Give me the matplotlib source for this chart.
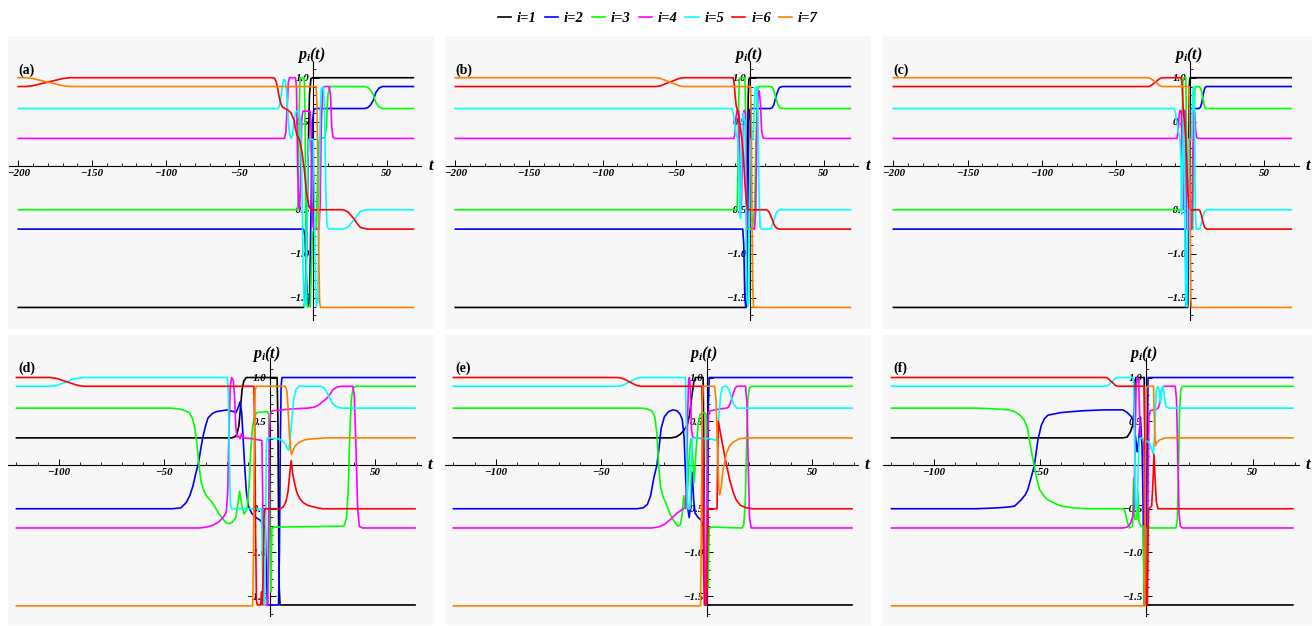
import numpy as np
import matplotlib.pyplot as plt
from matplotlib.lines import Line2D
from matplotlib.ticker import FuncFormatter

plt.rcParams['font.family'] = ['Liberation Serif', 'DejaVu Serif']
plt.rcParams['font.weight'] = 'bold'
plt.rcParams['font.style'] = 'italic'
plt.rcParams['mathtext.fontset'] = 'custom'
plt.rcParams['mathtext.it'] = 'Liberation Serif:bold:italic'
plt.rcParams['mathtext.rm'] = 'Liberation Serif:bold'

LABELS = ["i=1", "i=2", "i=3", "i=4", "i=5", "i=6", "i=7"]
COLORS = ["#000000", "#0000ff", "#00ff00", "#ff00ff", "#00ffff", "#ff0000", "#ff8000"]
TAGS = ["(a)", "(b)", "(c)", "(d)", "(e)", "(f)"]

# ---- panel (a): (t, p) points ----
A1 = [(-200, -1.61), (-6.5, -1.61), (-5.5, -1.55), (-4.5, -1.0), (-3.5, 0.0), (-2.5, 0.8), (-1.5, 0.99), (0, 1.0), (68, 1.0)]
A2 = [(-200, -0.72), (-6.5, -0.72), (-5.5, -0.8), (-4.5, -1.3), (-3.5, -1.6), (-2.5, -1.55), (-1.5, -0.6), (-0.5, 0.5),
      (0.5, 0.64), (2, 0.65), (35, 0.65), (37, 0.66), (39, 0.69), (41, 0.75), (42.5, 0.83), (44.5, 0.88), (47, 0.9), (68, 0.9)]
A3 = [(-200, -0.5), (-10.5, -0.5), (-10, -0.2), (-9.5, 0.6), (-9, 0.97), (-8.5, 1.0), (-6, 1.0), (-5.5, 0.6), (-5, -0.6),
      (-4.5, -1.4), (-4, -1.6), (-2, -1.6), (-1.2, -1.2), (-0.5, -0.75), (2, -0.72), (2.8, -0.3), (3.6, 0.25), (4.5, 0.31),
      (8, 0.32), (9, 0.45), (10, 0.8), (11, 0.89), (12, 0.9), (35, 0.9), (37, 0.89), (39, 0.86), (41, 0.8), (42.5, 0.72),
      (44.5, 0.67), (47, 0.65), (68, 0.65)]
A4 = [(-200, 0.31), (-19.5, 0.31), (-18.5, 0.38), (-17.5, 0.7), (-16.8, 0.95), (-16, 1.0), (-12, 1.0), (-11.3, 0.9),
      (-10.5, 0.0), (-9.8, -0.45), (-9.2, -0.5), (-8.5, -0.2), (-7.8, 0.5), (-7, 0.62), (-2, 0.62), (-1.5, 0.45),
      (-0.8, -0.4), (0, -0.7), (0.8, -0.72), (4, -0.72), (4.8, -0.4), (5.6, 0.5), (6.5, 0.86), (7.5, 0.9), (11, 0.9),
      (11.8, 0.8), (12.6, 0.45), (13.4, 0.33), (14.5, 0.31), (68, 0.31)]
A5 = [(-200, 0.65), (-24, 0.65), (-23, 0.67), (-22, 0.75), (-21, 0.9), (-20, 0.98), (-19, 0.97), (-18, 0.85), (-17, 0.55),
      (-16, 0.36), (-15, 0.31), (-14, 0.35), (-13, 0.5), (-12, 0.6), (-11, 0.62), (-9.5, 0.62), (-8.5, 0.5), (-7.5, -0.3),
      (-6.8, -1.2), (-6, -1.6), (-5, -1.55), (-4.2, -0.8), (-3.5, 0.1), (-2.8, 0.3), (0, 0.3), (0.8, -0.3), (1.5, -1.3),
      (2.2, -1.6), (3.2, -1.55), (4, -0.5), (4.8, 0.6), (5.5, 0.88), (7, 0.9), (7.8, 0.6), (8.6, -0.3), (9.4, -0.68),
      (10.5, -0.72), (20, -0.72), (22, -0.71), (24, -0.69), (26, -0.65), (28, -0.61), (30, -0.56), (32, -0.52),
      (34, -0.51), (37, -0.5), (68, -0.5)]
A6 = [(-200, 0.9), (-195, 0.9), (-190, 0.91), (-185, 0.93), (-180, 0.95), (-175, 0.97), (-170, 0.99), (-165, 1.0),
      (-27, 1.0), (-26, 0.99), (-25, 0.95), (-24, 0.87), (-23, 0.78), (-22, 0.71), (-21, 0.67), (-19, 0.65), (-17, 0.63),
      (-15, 0.6), (-13, 0.52), (-12, 0.42), (-11, 0.35), (-10, 0.32), (-9, 0.28), (-7.5, 0.15), (-6, -0.05),
      (-4.5, -0.3), (-3, -0.45), (-1.5, -0.5), (20, -0.5), (22, -0.51), (24, -0.53), (26, -0.57), (28, -0.61),
      (30, -0.66), (32, -0.7), (34, -0.71), (37, -0.72), (68, -0.72)]
A7 = [(-200, 1.0), (-195, 1.0), (-190, 0.99), (-185, 0.97), (-180, 0.95), (-175, 0.93), (-170, 0.91), (-165, 0.9),
      (2, 0.9), (2.6, 0.7), (3.2, 0.0), (3.8, -1.0), (4.4, -1.55), (5, -1.61), (68, -1.61)]

# ---- panel (b) ----
B1 = [(-200, -1.61), (-2.8, -1.61), (-2.3, -1.2), (-1.8, 0.0), (-1.3, 0.8), (-0.8, 0.99), (0, 1.0), (68, 1.0)]
B2 = [(-200, -0.72), (-5, -0.72), (-4.3, -0.9), (-3.6, -1.5), (-3, -1.6), (-2.3, -1.5), (-1.6, -0.5), (-0.9, 0.5),
      (-0.2, 0.64), (1, 0.65), (14, 0.65), (15, 0.66), (16, 0.69), (17, 0.75), (18, 0.81), (19, 0.86), (20, 0.89),
      (22, 0.9), (68, 0.9)]
B3 = [(-200, -0.5), (-8.8, -0.5), (-8.3, -0.1), (-7.8, 0.7), (-7.3, 0.98), (-6.8, 1.0), (-3.5, 1.0), (-3, 0.5),
      (-2.5, -0.5), (-2, -0.72), (1.5, -0.72), (3, -0.5), (4, 0.3), (5, 0.85), (6, 0.9), (14, 0.9), (15, 0.89),
      (16, 0.86), (17, 0.8), (18, 0.74), (19, 0.69), (20, 0.66), (22, 0.65), (68, 0.65)]
B4 = [(-200, 0.31), (-11, 0.31), (-10.3, 0.36), (-9.6, 0.55), (-8.9, 0.62), (-7.8, 0.62), (-7.2, 0.2), (-6.6, -0.45),
      (-6, -0.5), (-5.4, 0.0), (-4.8, 0.58), (-4, 0.63), (-3.2, 0.6), (-2.6, 0.0), (-2, -0.7), (3, -0.72), (3.8, -0.5),
      (4.6, 0.4), (5.4, 0.82), (6.2, 0.85), (7, 0.7), (7.8, 0.4), (8.6, 0.32), (10, 0.31), (68, 0.31)]
B5 = [(-200, 0.65), (-12.5, 0.65), (-11.5, 0.6), (-10.5, 0.48), (-9.5, 0.36), (-8.5, 0.31), (-7.7, 0.1), (-7.1, -0.5),
      (-6.5, -0.6), (-5.9, 0.0), (-5.3, 0.5), (-4.5, 0.6), (-3.5, 0.5), (-2.9, -0.5), (-2.3, -1.5), (-1.5, -1.6),
      (-0.7, -1.5), (-0.1, 0.0), (0.5, 0.3), (2, 0.31), (2.7, 0.6), (3.4, 0.88), (4.5, 0.9), (5.3, 0.6), (6, -0.3),
      (6.8, -0.7), (8, -0.72), (13, -0.72), (14, -0.71), (15, -0.68), (16, -0.63), (17, -0.57), (18, -0.53),
      (19, -0.51), (21, -0.5), (68, -0.5)]
B6 = [(-200, 0.9), (-63.5, 0.9), (-60.5, 0.91), (-57.5, 0.93), (-54.5, 0.95), (-51.5, 0.97), (-48.5, 0.99),
      (-45.5, 1.0), (-11.5, 1.0), (-10.8, 0.93), (-10.1, 0.78), (-9.4, 0.68), (-8.5, 0.62), (-7.5, 0.55), (-6.5, 0.4),
      (-5.5, 0.3), (-4.5, 0.1), (-3.5, -0.2), (-2.5, -0.42), (-1.5, -0.5), (11, -0.5), (12, -0.51), (13, -0.53),
      (14, -0.57), (15, -0.61), (16, -0.66), (17, -0.69), (18, -0.71), (20, -0.72), (68, -0.72)]
B7 = [(-200, 1.0), (-63.5, 1.0), (-60.5, 0.99), (-57.5, 0.97), (-54.5, 0.95), (-51.5, 0.93), (-48.5, 0.91),
      (-45.5, 0.9), (0.3, 0.9), (0.8, 0.5), (1.3, -0.6), (1.8, -1.4), (2.3, -1.61), (68, -1.61)]

# ---- panel (c) ----
C1 = [(-200, -1.61), (-1.8, -1.61), (-1.4, -0.6), (-1, 0.5), (-0.5, 0.97), (0, 1.0), (68, 1.0)]
C2 = [(-200, -0.72), (-3.4, -0.72), (-3, -1.2), (-2.6, -1.6), (-1.8, -1.6), (-1.3, -0.3), (-0.7, 0.55), (0, 0.65),
      (6, 0.65), (7, 0.67), (7.8, 0.72), (8.5, 0.79), (9.2, 0.85), (10, 0.89), (11, 0.9), (68, 0.9)]
C3 = [(-200, -0.5), (-6, -0.5), (-5.5, 0.3), (-5, 0.97), (-4.5, 1.0), (-3, 1.0), (-2.5, 0.2), (-2, -0.72), (1.6, -0.72),
      (2.3, 0.0), (3, 0.85), (3.7, 0.9), (6, 0.9), (7, 0.88), (7.8, 0.83), (8.5, 0.76), (9.2, 0.7), (10, 0.66),
      (11, 0.65), (68, 0.65)]
C4 = [(-200, 0.31), (-9, 0.31), (-8.3, 0.38), (-7.6, 0.56), (-6.9, 0.63), (-6, 0.62), (-5.5, 0.1), (-5, -0.5),
      (-4.5, 0.4), (-3.9, 0.63), (-3.3, 0.5), (-2.8, -0.3), (-2.3, -0.72), (1, -0.72), (1.6, 0.0), (2.3, 0.62),
      (3, 0.6), (3.6, 0.4), (4.3, 0.32), (5.5, 0.31), (68, 0.31)]
C5 = [(-200, 0.65), (-11, 0.65), (-10, 0.61), (-9, 0.5), (-8, 0.38), (-7, 0.32), (-6.3, 0.1), (-5.7, -0.55),
      (-5.1, 0.0), (-4.6, 0.55), (-4.1, 0.5), (-3.6, -0.8), (-3.1, -1.55), (-2.3, -1.6), (-1.7, -0.5), (-1.1, 0.3),
      (1, 0.3), (1.6, 0.8), (2.2, 0.9), (2.8, 0.6), (3.4, -0.5), (4, -0.72), (5.5, -0.72), (6.5, -0.71), (7.3, -0.67),
      (8, -0.62), (8.8, -0.56), (9.6, -0.52), (11, -0.5), (68, -0.5)]
C6 = [(-200, 0.9), (-28, 0.9), (-26.5, 0.91), (-25, 0.93), (-23.5, 0.95), (-22, 0.97), (-20.5, 0.99), (-19, 1.0),
      (-6, 1.0), (-5.4, 0.9), (-4.8, 0.65), (-4, 0.52), (-3.2, 0.35), (-2.4, 0.05), (-1.6, -0.3), (-0.8, -0.48),
      (0, -0.5), (5.5, -0.5), (6.5, -0.51), (7.3, -0.55), (8, -0.6), (8.8, -0.66), (9.6, -0.7), (11, -0.72), (68, -0.72)]
C7 = [(-200, 1.0), (-28, 1.0), (-26.5, 0.99), (-25, 0.97), (-23.5, 0.95), (-22, 0.93), (-20.5, 0.91), (-19, 0.9),
      (-0.8, 0.9), (-0.4, 0.4), (0, -0.8), (0.4, -1.5), (0.8, -1.61), (68, -1.61)]

# ---- panel (d) ----
D1 = [(-120, 0.31), (-18, 0.31), (-16.5, 0.32), (-15.5, 0.35), (-14.5, 0.45), (-13.8, 0.65), (-13, 0.86),
      (-12.2, 0.96), (-11, 1.0), (3.6, 1.0), (4, 0.5), (4.3, -0.6), (4.6, -1.4), (5, -1.6), (69, -1.6)]
D2 = [(-120, -0.5), (-46, -0.5), (-42, -0.49), (-39.5, -0.43), (-37.8, -0.35), (-36.3, -0.24), (-35, -0.1),
      (-33.6, 0.03), (-32.5, 0.2), (-31.5, 0.33), (-30.3, 0.45), (-29.1, 0.54), (-27, 0.59), (-25.2, 0.61),
      (-20, 0.63), (-17, 0.61), (-15.8, 0.6), (-14.8, 0.66), (-14, 0.72), (-13.2, 0.6), (-12.5, 0.3), (-11.8, 0.0),
      (-11, -0.3), (-10, -0.47), (-8.5, -0.55), (-6.5, -0.6), (-4.5, -0.63), (-3, -0.68), (-2, -0.72), (-1.5, -1.2),
      (-1, -1.6), (4.3, -1.6), (4.7, -1.0), (5.1, 0.2), (5.5, 0.9), (5.9, 1.0), (69, 1.0)]
D3 = [(-120, 0.65), (-47, 0.65), (-42.6, 0.64), (-40, 0.62), (-38, 0.6), (-36.5, 0.53), (-35.5, 0.43), (-34.6, 0.28),
      (-33.6, 0.03), (-32.4, -0.2), (-31, -0.3), (-30, -0.35), (-27.1, -0.43), (-23.9, -0.56), (-20.7, -0.66),
      (-19, -0.67), (-17.5, -0.65), (-16, -0.6), (-15, -0.45), (-14.2, -0.3), (-13.2, -0.45), (-12.1, -0.56),
      (-11.2, -0.53), (-10.5, -0.48), (-9.6, -0.2), (-8.8, 0.2), (-8, 0.45), (-7, 0.56), (-6, 0.6), (-1, 0.61),
      (-0.4, 0.58), (0, 0.0), (0.3, -1.0), (0.6, -1.45), (0.9, -1.0), (1.2, -0.72), (3, -0.71), (34, -0.7),
      (35.5, -0.69), (36.5, -0.6), (37.3, -0.3), (38, 0.3), (38.8, 0.75), (39.6, 0.88), (41, 0.9), (69, 0.9)]
D4 = [(-120, -0.72), (-33, -0.72), (-30, -0.71), (-27, -0.69), (-24, -0.65), (-22, -0.6), (-20.5, -0.54),
      (-19.8, -0.3), (-19.2, 0.4), (-18.6, 0.9), (-18, 1.0), (-17.2, 0.97), (-16.6, 0.8), (-16, 0.45), (-15.4, 0.32),
      (-14.6, 0.33), (-14, 0.3), (-13.2, 0.36), (-12.5, 0.31), (-8, 0.3), (-3.6, 0.28), (-3.2, -0.4), (-2.8, -1.4),
      (-2.4, -1.6), (-0.8, -1.6), (-0.4, -0.6), (0, 0.4), (0.5, 0.6), (1.5, 0.62), (10, 0.64), (18, 0.65), (21, 0.66),
      (23, 0.68), (25, 0.72), (27, 0.76), (28.5, 0.8), (30, 0.86), (32, 0.89), (34, 0.9), (39.5, 0.9), (40.2, 0.8),
      (41, 0.2), (41.8, -0.5), (42.6, -0.7), (44, -0.72), (69, -0.72)]
D5 = [(-120, 0.9), (-104, 0.9), (-101, 0.91), (-98.5, 0.93), (-96, 0.95), (-93.5, 0.98), (-91, 0.99), (-88, 1.0),
      (-20, 1.0), (-19.5, 0.8), (-19, 0.0), (-18.5, -0.45), (-18, -0.5), (-3.8, -0.5), (-3.3, -1.2), (-2.9, -1.6),
      (-2.3, -1.6), (-1.9, -0.8), (-1.5, 0.25), (-1, 0.31), (4, 0.3), (6, 0.28), (7.5, 0.24), (8.5, 0.19), (9, 0.17),
      (9.6, 0.25), (10.5, 0.5), (11.5, 0.75), (12.5, 0.86), (14, 0.9), (24, 0.9), (25.5, 0.89), (27, 0.84),
      (28.5, 0.77), (30, 0.7), (31.5, 0.67), (34, 0.65), (69, 0.65)]
D6 = [(-120, 1.0), (-104, 1.0), (-101, 0.99), (-98.5, 0.97), (-96, 0.95), (-93.5, 0.93), (-91, 0.91), (-88, 0.9),
      (-7.4, 0.9), (-7, 0.4), (-6.6, -0.8), (-6.2, -1.55), (-5.8, -1.6), (-4.2, -1.6), (-3.8, -1.45), (-3.4, -1.6),
      (-3, -1.2), (-2.6, -0.6), (-2.2, -0.5), (5, -0.5), (6.5, -0.48), (7.8, -0.42), (8.8, -0.3), (9.6, -0.1),
      (10.3, 0.05), (11, -0.1), (11.8, -0.2), (12.9, -0.31), (14.5, -0.39), (16, -0.43), (18, -0.46), (21, -0.48),
      (25, -0.5), (69, -0.5)]
D7 = [(-120, -1.61), (-8, -1.61), (-7.6, -1.0), (-7.2, 0.3), (-6.8, 0.85), (-6.3, 0.9), (7.5, 0.9), (8.2, 0.85),
      (8.8, 0.65), (9.4, 0.35), (10, 0.17), (10.5, 0.12), (11.2, 0.17), (12.2, 0.22), (14, 0.26), (17, 0.29),
      (21, 0.3), (27, 0.31), (69, 0.31)]

# ---- panel (e) ----
E1 = [(-120, 0.31), (-17, 0.31), (-14.5, 0.32), (-12.5, 0.35), (-10.5, 0.4), (-9, 0.47), (-8, 0.58), (-7, 0.78),
      (-6, 0.95), (-5.2, 1.0), (-1.6, 1.0), (-1.2, 0.0), (-0.8, -1.4), (-0.4, -1.6), (69, -1.6)]
E2 = [(-120, -0.5), (-33, -0.5), (-30, -0.49), (-28, -0.45), (-26.5, -0.35), (-25, -0.15), (-23.5, 0.0), (-22.5, 0.2),
      (-21.5, 0.42), (-20, 0.55), (-18, 0.61), (-16, 0.63), (-14, 0.62), (-12.5, 0.58), (-11.5, 0.52), (-10.6, 0.3),
      (-9.8, -0.2), (-9, -0.48), (-8.2, -0.6), (-7.5, -0.45), (-6.8, -0.08), (-6.1, -0.4), (-5.4, -0.55), (-4, -0.6),
      (-2.5, -0.63), (-1.5, -0.7), (-1, -1.3), (-0.6, -1.6), (0.3, -1.6), (0.6, -0.5), (0.9, 0.7), (1.3, 1.0), (69, 1.0)]
E3 = [(-120, 0.65), (-31, 0.65), (-28, 0.64), (-26, 0.62), (-24.5, 0.55), (-23.5, 0.35), (-22.7, 0.0), (-21.8, -0.25),
      (-20.5, -0.37), (-19, -0.45), (-17.5, -0.55), (-15.5, -0.64), (-13.5, -0.7), (-12.3, -0.68), (-11.5, -0.55),
      (-10.8, -0.35), (-10, -0.5), (-9, -0.3), (-8.2, 0.1), (-7.4, 0.3), (-6.6, 0.1), (-5.8, -0.2), (-5, 0.15),
      (-4, 0.45), (-3, 0.58), (-1, 0.6), (-0.2, 0.58), (0.2, -0.3), (0.6, -1.4), (0.9, -1.2), (1.3, -0.72), (3, -0.71),
      (17, -0.72), (17.7, -0.68), (18.4, -0.4), (19, 0.2), (19.6, 0.75), (20.3, 0.88), (21.5, 0.9), (69, 0.9)]
E4 = [(-120, -0.72), (-26, -0.72), (-23, -0.71), (-20, -0.68), (-17, -0.62), (-14, -0.55), (-11.5, -0.51), (-10, -0.48),
      (-9.4, -0.2), (-9, 0.5), (-8.5, 0.97), (-8.1, 1.0), (-7.6, 0.85), (-7.1, 0.4), (-6.6, 0.32), (-5, 0.31),
      (-1.6, 0.3), (-1.2, -0.4), (-0.8, -1.4), (-0.5, -1.6), (-0.1, -1.6), (0.2, -0.8), (0.5, 0.3), (0.9, 0.6),
      (2, 0.62), (6, 0.64), (9.5, 0.65), (10.4, 0.66), (11.2, 0.7), (12, 0.76), (12.8, 0.83), (13.6, 0.88), (14.5, 0.9),
      (18.5, 0.9), (19.2, 0.7), (19.8, 0.0), (20.4, -0.6), (21.2, -0.72), (69, -0.72)]
E5 = [(-120, 0.9), (-42, 0.9), (-39.8, 0.91), (-38.1, 0.93), (-36.5, 0.95), (-34.9, 0.97), (-33.2, 0.99), (-31, 1.0),
      (-10, 1.0), (-9.6, 0.5), (-9.2, -0.3), (-8.8, -0.5), (-7.8, -0.5), (-7.3, 0.0), (-6.8, 0.28), (-6, 0.31),
      (2, 0.3), (4.5, 0.28), (5.3, 0.35), (6, 0.6), (6.8, 0.82), (7.6, 0.89), (9, 0.9), (10, 0.89), (10.8, 0.85),
      (11.6, 0.79), (12.4, 0.72), (13.2, 0.68), (14.5, 0.65), (69, 0.65)]
E6 = [(-120, 1.0), (-42, 1.0), (-39.8, 0.99), (-38.1, 0.97), (-36.5, 0.95), (-34.9, 0.93), (-33.2, 0.91), (-31, 0.9),
      (-2.2, 0.9), (-1.8, 0.2), (-1.4, -1.2), (-1, -1.6), (0, -1.6), (0.4, -1.0), (0.8, -0.5), (5, -0.5), (5.3, 0.1),
      (5.6, 0.5), (6.5, 0.38), (7.8, 0.21), (9.3, 0.02), (11, -0.17), (12.5, -0.3), (14.1, -0.4), (16, -0.46),
      (19, -0.49), (22, -0.5), (69, -0.5)]
E7 = [(-120, -1.61), (-2.8, -1.61), (-2.4, -0.5), (-2, 0.7), (-1.6, 0.9), (3.8, 0.9), (4.5, 0.75), (5.2, 0.2),
      (5.8, -0.25), (6.3, -0.34), (7, -0.25), (7.8, -0.06), (9.4, 0.13), (11, 0.22), (12.6, 0.26), (15.5, 0.3),
      (20, 0.31), (69, 0.31)]

# ---- panel (f) ----
F1 = [(-120, 0.31), (-11, 0.31), (-9, 0.32), (-7.5, 0.38), (-6.5, 0.45), (-5.8, 0.6), (-5.3, 0.95), (-5, 1.0),
      (-1, 1.0), (-0.5, 0.0), (0, -1.6), (69, -1.6)]
F2 = [(-120, -0.5), (-80, -0.5), (-70, -0.49), (-65, -0.48), (-62, -0.47), (-59, -0.4), (-57, -0.34), (-55.8, -0.28),
      (-54.2, -0.14), (-52.7, 0.0), (-51.1, 0.28), (-49.5, 0.45), (-48, 0.53), (-46.3, 0.57), (-40, 0.6), (-30, 0.62),
      (-20, 0.63), (-11, 0.63), (-9, 0.6), (-7, 0.55), (-5.9, 0.48), (-5, 0.3), (-4.3, 0.15), (-3.5, 0.3),
      (-2.8, 0.55), (-2, 0.2), (-1.5, -0.5), (-1, -1.6), (0, -1.6), (0.4, 0.0), (0.8, 1.0), (69, 1.0)]
F3 = [(-120, 0.65), (-80, 0.65), (-70, 0.64), (-65, 0.63), (-62, 0.61), (-59.5, 0.57), (-57.4, 0.51), (-56, 0.42),
      (-55, 0.28), (-54, 0.14), (-53, 0.02), (-51.8, -0.14), (-50.3, -0.28), (-48, -0.36), (-46.3, -0.4), (-43, -0.44),
      (-40, -0.47), (-34, -0.49), (-28, -0.5), (-11, -0.5), (-10, -0.53), (-9, -0.65), (-8, -0.72), (-6.5, -0.7),
      (-6, -0.15), (-5.5, -0.62), (-4.5, -0.62), (-4, -0.3), (-3.5, -0.65), (-2.5, -0.7), (-1.5, -0.7), (-1, -1.6),
      (-0.3, -1.6), (0.3, -0.72), (14, -0.72), (14.6, -0.62), (15.1, -0.1), (15.6, 0.6), (16.2, 0.86), (17, 0.9),
      (69, 0.9)]
F4 = [(-120, -0.72), (-11, -0.72), (-9, -0.71), (-7.5, -0.67), (-6.5, -0.6), (-5.8, -0.5), (-5.3, 0.3), (-4.8, 0.9),
      (-4.3, 1.0), (-3.6, 0.98), (-3.2, 0.6), (-2.8, 0.33), (-2.2, 0.3), (-1.2, 0.3), (-0.9, -0.5), (-0.6, -1.5),
      (-0.2, -1.6), (0.3, -1.6), (0.7, -0.5), (1.2, 0.55), (1.8, 0.62), (5, 0.64), (5.8, 0.66), (6.5, 0.75),
      (7.2, 0.86), (8, 0.9), (13.6, 0.9), (14.2, 0.75), (14.8, 0.1), (15.4, -0.55), (16, -0.7), (17, -0.72), (69, -0.72)]
F5 = [(-120, 0.9), (-19, 0.9), (-18, 0.91), (-17.2, 0.93), (-16.3, 0.95), (-15.4, 0.97), (-14.6, 0.99), (-13.6, 1.0),
      (-6, 1.0), (-5.6, 0.4), (-5.2, -0.4), (-4.8, -0.5), (-4.3, -0.45), (-3.8, 0.0), (-3.3, 0.3), (-2, 0.31),
      (-1, 0.28), (0.5, 0.27), (1.5, 0.25), (2.5, 0.18), (3.3, 0.12), (4, 0.4), (4.7, 0.85), (5.3, 0.9), (6, 0.87),
      (6.6, 0.7), (7.3, 0.88), (7.9, 0.9), (8.5, 0.78), (9.2, 0.67), (10.5, 0.65), (69, 0.65)]
F6 = [(-120, 1.0), (-19, 1.0), (-18, 0.99), (-17.2, 0.97), (-16.3, 0.95), (-15.4, 0.93), (-14.6, 0.91), (-13.6, 0.9),
      (-1, 0.9), (-0.6, 0.0), (-0.3, -1.4), (0, -1.6), (0.5, -1.6), (0.8, -0.8), (1.1, -0.5), (2.5, -0.47), (3.1, -0.2),
      (3.6, 0.12), (4.1, -0.15), (4.7, -0.42), (5.5, -0.5), (69, -0.5)]
F7 = [(-120, -1.61), (-0.8, -1.61), (-0.4, 0.0), (0, 0.88), (0.5, 0.9), (3.4, 0.9), (3.8, 0.5), (4.2, 0.22),
      (5, 0.26), (6.5, 0.29), (9, 0.31), (69, 0.31)]

PANELS = [[A1, A2, A3, A4, A5, A6, A7], [B1, B2, B3, B4, B5, B6, B7], [C1, C2, C3, C4, C5, C6, C7],
          [D1, D2, D3, D4, D5, D6, D7], [E1, E2, E3, E4, E5, E6, E7], [F1, F2, F3, F4, F5, F6, F7]]

TOP_XTICKS = [-200, -150, -100, -50, 50]
BOT_XTICKS = [-100, -50, 50]
YTICKS = [-1.5, -1.0, -0.5, 0.5, 1.0]

fig = plt.figure(figsize=(13.16, 6.26), dpi=100)
lefts = [8 / 1316, 445 / 1316, 883 / 1316]
widths = [426 / 1316, 426 / 1316, 429 / 1316]
bottoms = [1 - 329 / 626, 1 - 625 / 626]
heights = [293 / 626, 290 / 626]

minus = lambda s: s.replace('-', '\u2212')

for k, series in enumerate(PANELS):
    r, c = divmod(k, 3)
    ax = fig.add_axes([lefts[c], bottoms[r], widths[c], heights[r]])
    ax.set_facecolor('#f7f7f7')
    for s, color in zip(series, COLORS):
        t, p = zip(*s)
        ax.plot(t, p, color=color, lw=1.2, solid_joinstyle='round', zorder=3)

    if r == 0:
        ax.set_xlim(-207, 82)
        ax.set_ylim(-1.855, 1.474)
        ax.spines['bottom'].set_bounds(-206, 73)
        ax.spines['left'].set_bounds(-1.75, 1.18)
        ax.set_xticks(TOP_XTICKS)
        ax.set_xticks(np.arange(-200, 71, 10), minor=True)
        tx, ly = 79.5, 1.26
    else:
        ax.set_xlim(-124, 78)
        ax.set_ylim(-1.829, 1.486)
        ax.spines['bottom'].set_bounds(-124, 72)
        ax.spines['left'].set_bounds(-1.73, 1.22)
        ax.set_xticks(BOT_XTICKS)
        ax.set_xticks(np.arange(-120, 71, 10), minor=True)
        tx, ly = 76, 1.27
    ax.set_yticks(YTICKS)
    ax.set_yticks(np.arange(-1.7, 1.15, 0.1), minor=True)
    ax.xaxis.set_major_formatter(FuncFormatter(lambda v, _: minus(f"{v:.0f}")))
    ax.yaxis.set_major_formatter(FuncFormatter(lambda v, _: minus(f"{v:.1f}")))

    for side in ('top', 'right'):
        ax.spines[side].set_visible(False)
    for side in ('left', 'bottom'):
        ax.spines[side].set_position(('data', 0))
        ax.spines[side].set_linewidth(0.8)
    ax.tick_params(which='major', direction='in', length=4, width=0.7, labelsize=7.8, pad=2.5)
    ax.tick_params(which='minor', direction='in', length=2.3, width=0.6)

    ax.text(tx, 0, 't', fontsize=12, ha='center', va='center')
    ax.text(-1.4, ly, r'$p_i(t)$', fontsize=11.5, ha='center', va='center')
    ax.text(0.024, 0.884, TAGS[k], transform=ax.transAxes, fontsize=10, fontstyle='normal',
            fontweight='bold', ha='left', va='center')

handles = [Line2D([], [], color=col, lw=1.2) for col in COLORS]
fig.legend(handles, LABELS, loc='center', bbox_to_anchor=(0.5, 1 - 18 / 626), ncol=7, frameon=False,
           handlelength=0.9, handletextpad=0.4, columnspacing=0.55, borderpad=0.2,
           prop={'family': 'Liberation Serif', 'weight': 'bold', 'style': 'italic', 'size': 10.5})

fig.savefig('out.png', dpi=100, facecolor='white')
